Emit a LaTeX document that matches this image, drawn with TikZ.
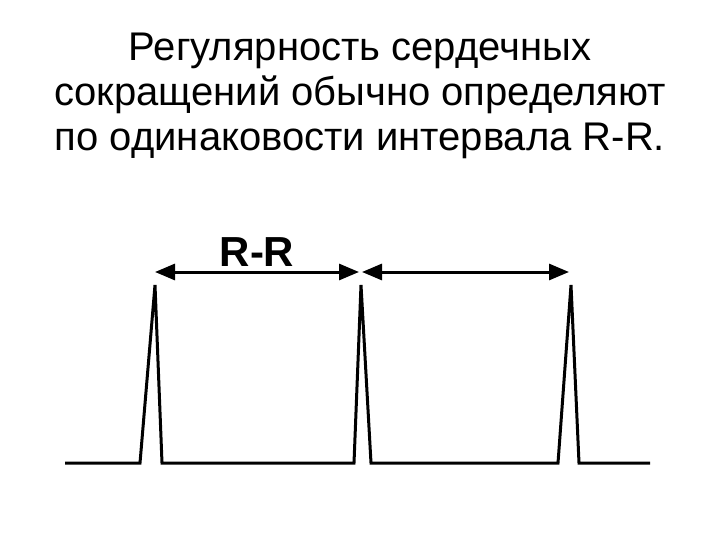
\documentclass[tikz,border=0pt]{standalone}
\usepackage{fontspec}
\setmainfont{Liberation Sans}
\usetikzlibrary{arrows.meta}
\begin{document}
\begin{tikzpicture}[x=1pt,y=-1pt,
  wave/.style={line width=3pt,line join=miter},
  dim/.style={line width=3pt,{Triangle[length=20pt,width=16pt]}-{Triangle[length=20pt,width=16pt]}}]
\useasboundingbox (0,0) rectangle (720,540);
\node[align=center,font=\fontsize{40}{45}\selectfont] (title) at (360,96)
 {Регулярность сердечных\\сокращений обычно определяют\\по одинаковости интервала R-R.};
\draw[wave] (65,463) -- (140,463) -- (155,285) -- (162,463) -- (354,463) -- (361,285) -- (371,463) -- (558,463) -- (571,285) -- (579,463) -- (650,463);
\coordinate (a1) at (155,272);
\coordinate (a2) at (359,272);
\coordinate (a3) at (362,272);
\coordinate (a4) at (569,272);
\draw[dim] (a1) -- (a2);
\draw[dim] (a3) -- (a4);
\node[font=\bfseries\fontsize{42}{46}\selectfont] (rr) at (257,252) {R-R};
\end{tikzpicture}
\end{document}
